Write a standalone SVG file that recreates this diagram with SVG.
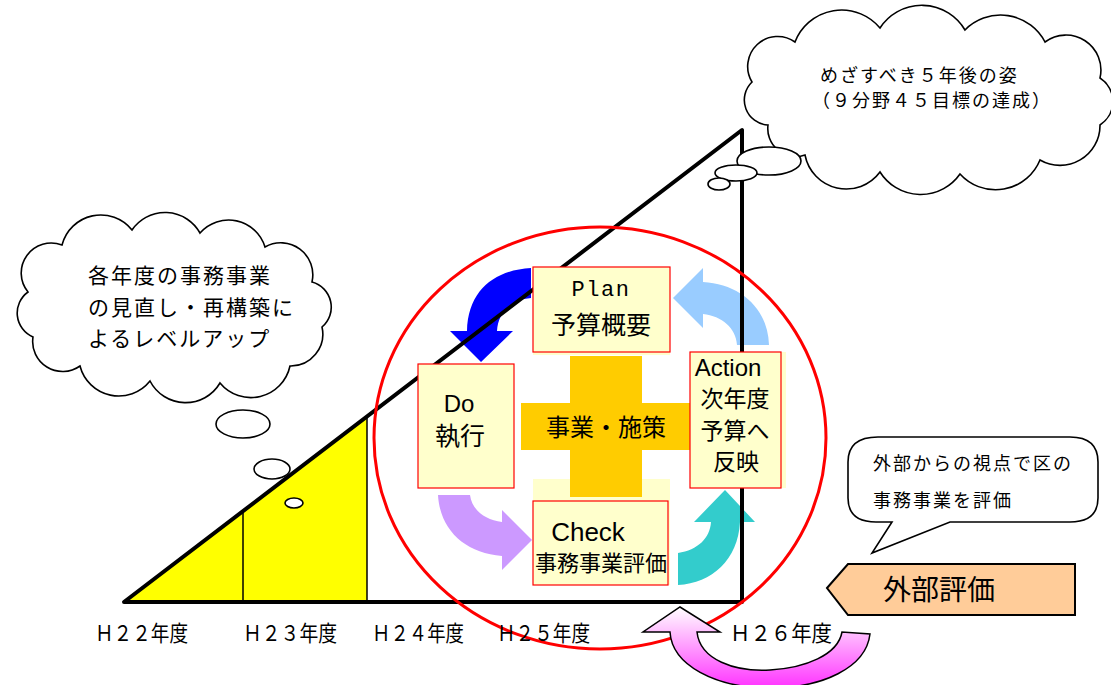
<svg xmlns="http://www.w3.org/2000/svg" width="1111" height="685" viewBox="0 0 1111 685">
<defs>
<linearGradient id="pink" x1="0" y1="0" x2="0" y2="1">
<stop offset="0" stop-color="#FFFFFF"/>
<stop offset="1" stop-color="#FF33FF"/>
</linearGradient>
<style>
.jp{font-family:"Noto Sans CJK JP","Liberation Sans",sans-serif;fill:#000}
.lat{font-family:"Liberation Sans","Noto Sans CJK JP",sans-serif;fill:#000}
.box{fill:#FFFFCC;stroke:#FF0000;stroke-width:1.2}
.bg{fill:#FFFFCC}
.cloud{fill:#FFFFFF;stroke:#000;stroke-width:1.6}
.axis{stroke:#000;stroke-width:4;fill:none;stroke-linecap:round}
.thin{stroke:#000;stroke-width:1.5}
.yr{font-family:"Noto Sans CJK JP","Liberation Sans",sans-serif;font-size:22px;fill:#000}
</style>
</defs>
<rect width="1111" height="685" fill="#FFFFFF"/>

<g id="chart">
<polygon points="124,602 367,602 367,416.4" fill="#FFFF00"/>
<line x1="243" y1="511" x2="243" y2="602" class="thin"/>
<line x1="367" y1="416.4" x2="367" y2="602" class="thin"/>
</g>

<g id="connectors">
<path id="arrow-plan-do" d="M 531 268 C 495 270 468 290 467 331 L 450 331 L 481 362 L 513 331 L 497 331 C 498 313 510 300 531 298 Z" fill="#0000FF"/>
<path id="arrow-action-plan" d="M 703 268 L 673 298 L 703 328 L 703 314 C 722 316 736 328 737 345 L 769 345 C 768 308 740 284 703 282 Z" fill="#99CCFF"/>
<path id="arrow-do-check" d="M 438 495 L 470 495 C 472 510 485 520 502 522 L 502 510 L 532 540 L 502 570 L 502 556 C 465 553 440 530 438 495 Z" fill="#CC99FF"/>
<path id="arrow-check-action" d="M 678 553 C 698 550 710 538 711 522 L 694 522 L 725 490 L 755 522 L 740 522 C 738 560 712 583 678 585 Z" fill="#33CCCC"/>
</g>

<g id="triangle">
<polyline points="742,602 124,602 742,130 742,602" class="axis" stroke-linejoin="round"/>
</g>

<g id="cycle-circle">
<ellipse cx="600" cy="438" rx="226" ry="211" fill="none" stroke="#FF0000" stroke-width="3"/>
</g>

<g id="external-arrow">
<path d="M 680 607 L 720 632 L 697 632 C 700 660 735 672 770 670 C 805 668 838 655 842 632 L 870 634 C 866 668 822 688 770 688 C 715 688 672 665 670 632 L 643 632 Z" fill="url(#pink)" stroke="#000" stroke-width="1.5" stroke-linejoin="miter"/>
</g>

<g id="center">
<rect x="533" y="479" width="137" height="106" class="bg"/>
<rect x="570" y="356" width="72" height="141" fill="#FFCC00"/>
<rect x="521" y="403" width="169" height="47" fill="#FFCC00"/>
<text x="606" y="436" class="jp" font-size="24" text-anchor="middle">事業・施策</text>
</g>

<g id="plan">
<rect x="533" y="267" width="137" height="88" class="bg"/>
<rect x="533" y="267" width="137" height="85" class="box"/>
<text x="601" y="296" font-family="Liberation Mono, monospace" font-size="22" letter-spacing="1.5" text-anchor="middle">Plan</text>
<text x="601" y="334" class="jp" font-size="25" text-anchor="middle">予算概要</text>
</g>

<g id="do">
<rect x="418" y="364" width="96" height="124" class="box"/>
<text x="459" y="412" class="lat" font-size="24" text-anchor="middle">Do</text>
<text x="460" y="445" class="jp" font-size="25" text-anchor="middle">執行</text>
</g>

<g id="action">
<rect x="690" y="352" width="96" height="136" class="bg"/>
<rect x="690" y="352" width="91" height="136" class="box"/>
<text x="728" y="376" class="lat" font-size="24" text-anchor="middle">Action</text>
<text x="735" y="407" class="jp" font-size="23" text-anchor="middle">次年度</text>
<text x="735" y="439" class="jp" font-size="23" text-anchor="middle">予算へ</text>
<text x="736" y="470" class="jp" font-size="23" text-anchor="middle">反映</text>
</g>

<g id="check">
<rect x="533" y="501" width="135" height="84" class="box"/>
<text x="588" y="541" class="lat" font-size="26" text-anchor="middle">Check</text>
<text x="601" y="571" class="jp" font-size="22" text-anchor="middle">事務事業評価</text>
</g>

<g id="cloud-left">
<path class="cloud" d="M 28 292 A 30 30 0 0 1 62 245 A 40 40 0 0 1 132 230 A 40 40 0 0 1 200 233 A 38 38 0 0 1 265 247 A 32 32 0 0 1 312 282 A 26 26 0 0 1 322 327 A 32 32 0 0 1 290 366 A 40 40 0 0 1 220 383 A 40 40 0 0 1 150 381 A 40 40 0 0 1 80 366 A 30 30 0 0 1 33 337 A 26 26 0 0 1 28 292 Z"/>
<text x="88" y="283" class="jp" font-size="21" letter-spacing="2">各年度の事務事業</text>
<text x="88" y="315" class="jp" font-size="21" letter-spacing="2">の見直し・再構築に</text>
<text x="88" y="346" class="jp" font-size="21" letter-spacing="2">よるレベルアップ</text>
<ellipse cx="243" cy="424" rx="27" ry="14" class="cloud"/>
<ellipse cx="272" cy="469" rx="18" ry="10" class="cloud"/>
<ellipse cx="294" cy="503" rx="9" ry="5" class="cloud"/>
</g>

<g id="cloud-top">
<path class="cloud" d="M 752 82 A 30 30 0 0 1 795 42 A 50 50 0 0 1 880 28 A 50 50 0 0 1 965 30 A 50 50 0 0 1 1045 42 A 35 35 0 0 1 1100 78 A 28 28 0 0 1 1100 125 A 40 40 0 0 1 1040 160 A 48 48 0 0 1 960 174 A 48 48 0 0 1 880 172 A 42 42 0 0 1 805 155 A 28 28 0 0 1 768 125 A 25 25 0 0 1 752 82 Z"/>
<text x="820" y="82" class="jp" font-size="18" letter-spacing="2">めざすべき５年後の姿</text>
<text x="812" y="107" class="jp" font-size="18" letter-spacing="2">（９分野４５目標の達成）</text>
<ellipse cx="769" cy="161" rx="32" ry="14" class="cloud"/>
<ellipse cx="736" cy="173" rx="21" ry="8" class="cloud"/>
<ellipse cx="719" cy="184" rx="11" ry="6" class="cloud"/>
</g>

<g id="callout">
<path d="M 878 437 H 1070 Q 1098 437 1098 462 V 498 Q 1098 522 1070 522 H 950 L 872 553 L 892 522 H 876 Q 848 522 848 498 V 462 Q 848 437 878 437 Z" fill="#FFFFFF" stroke="#000" stroke-width="1.6"/>
<text x="873" y="470" class="jp" font-size="18" letter-spacing="2">外部からの視点で区の</text>
<text x="873" y="507" class="jp" font-size="18" letter-spacing="2">事務事業を評価</text>
</g>

<g id="external">
<polygon points="827,588 848,564 1075,564 1075,615 848,615" fill="#FFCC99" stroke="#000" stroke-width="2"/>
<text x="883" y="600" class="jp" font-size="28">外部評価</text>
</g>

<g id="years">
<text x="95" y="641" class="yr" textLength="93" lengthAdjust="spacingAndGlyphs">Ｈ２２年度</text>
<text x="243" y="641" class="yr" textLength="94" lengthAdjust="spacingAndGlyphs">Ｈ２３年度</text>
<text x="372" y="641" class="yr" textLength="92" lengthAdjust="spacingAndGlyphs">Ｈ２４年度</text>
<text x="497" y="641" class="yr" textLength="93" lengthAdjust="spacingAndGlyphs">Ｈ２５年度</text>
<text x="730" y="641" class="yr" textLength="102" lengthAdjust="spacingAndGlyphs">Ｈ２６年度</text>
</g>
</svg>
